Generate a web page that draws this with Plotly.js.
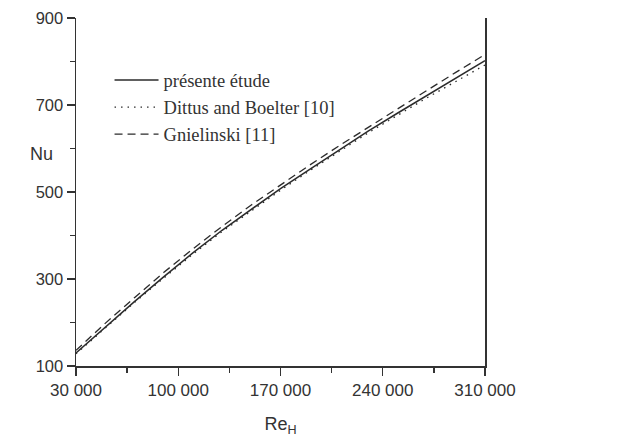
<!DOCTYPE html>
<html>
<head>
<meta charset="utf-8">
<script src="https://cdn.plot.ly/plotly-3.0.1.min.js"></script>
<style>html,body{margin:0;padding:0;background:#fff;}#chart{width:617px;height:437px;}</style>
</head>
<body>
<div id="chart"></div>
<script>
const reynolds = [30000, 50000, 70000, 90000, 110000, 130000, 150000, 170000, 190000, 210000, 230000, 250000, 270000, 290000, 310000];
const nuPresent = [130, 190, 248, 305, 360, 412, 460, 508, 552, 597, 640, 681, 722, 762, 802];
const nuDittus = [128, 188, 246, 302, 357, 409, 457, 504, 549, 593, 636, 676, 716, 754, 792];
const nuGnielinski = [136, 198, 257, 315, 369, 421, 470, 517, 562, 606, 649, 691, 733, 775, 816];
const seriesNames = ["présente étude", "Dittus and Boelter [10]", "Gnielinski [11]"];
const xTickVals = [30000, 100000, 170000, 240000, 310000];
const xTickText = ["30 000", "100 000", "170 000", "240 000", "310 000"];
const yTickVals = [100, 300, 500, 700, 900];

const ink = "#2b2b2b";
const traces = [
  {x: reynolds, y: nuPresent, name: seriesNames[0], mode: "lines", line: {color: ink, width: 1.5}},
  {x: reynolds, y: nuDittus, name: seriesNames[1], mode: "lines", line: {color: ink, width: 1.3, dash: "1.5px,5px"}},
  {x: reynolds, y: nuGnielinski, name: seriesNames[2], mode: "lines", line: {color: ink, width: 1.3, dash: "8px,5px"}}
];

const layout = {
  width: 617, height: 437,
  margin: {l: 76, r: 132, t: 18, b: 71},
  paper_bgcolor: "#fff", plot_bgcolor: "#fff",
  font: {family: "Liberation Sans, Arial, sans-serif", color: "#333", size: 16},
  showlegend: true,
  legend: {x: 0.082, y: 0.875, xanchor: "left", yanchor: "top",
           font: {family: "Liberation Serif, Times New Roman, serif", size: 18.5, color: "#333"},
           bgcolor: "rgba(0,0,0,0)", itemwidth: 44, tracegroupgap: 0},
  xaxis: {
    range: [30000, 310000], showgrid: false, zeroline: false,
    showline: true, linecolor: "#333", linewidth: 1.5,
    tickvals: xTickVals, ticktext: xTickText,
    ticks: "outside", ticklen: 8, tickwidth: 1.3, tickcolor: "#333",
    tickfont: {size: 17, color: "#333"},
    minor: {ticks: "outside", ticklen: 5, tickwidth: 1.3, tickcolor: "#333", tick0: 30000, dtick: 35000, showgrid: false},
    title: {text: "Re<sub>H</sub>", font: {size: 18, color: "#333"}, standoff: 20}
  },
  yaxis: {
    range: [100, 900], showgrid: false, zeroline: false,
    showline: true, mirror: true, linecolor: "#333", linewidth: 1.5,
    tickvals: yTickVals,
    ticks: "outside", ticklen: 8, tickwidth: 1.3, tickcolor: "#333",
    tickfont: {size: 16.5, color: "#333"},
    minor: {ticks: "outside", ticklen: 5, tickwidth: 1.3, tickcolor: "#333", tick0: 100, dtick: 100, showgrid: false}
  },
  annotations: [
    {text: "Nu", xref: "paper", yref: "paper", x: -0.085, y: 0.61, xanchor: "center", yanchor: "middle",
     showarrow: false, font: {size: 18, color: "#333"}}
  ]
};

Plotly.newPlot("chart", traces, layout, {displayModeBar: false, staticPlot: true});
</script>
</body>
</html>
